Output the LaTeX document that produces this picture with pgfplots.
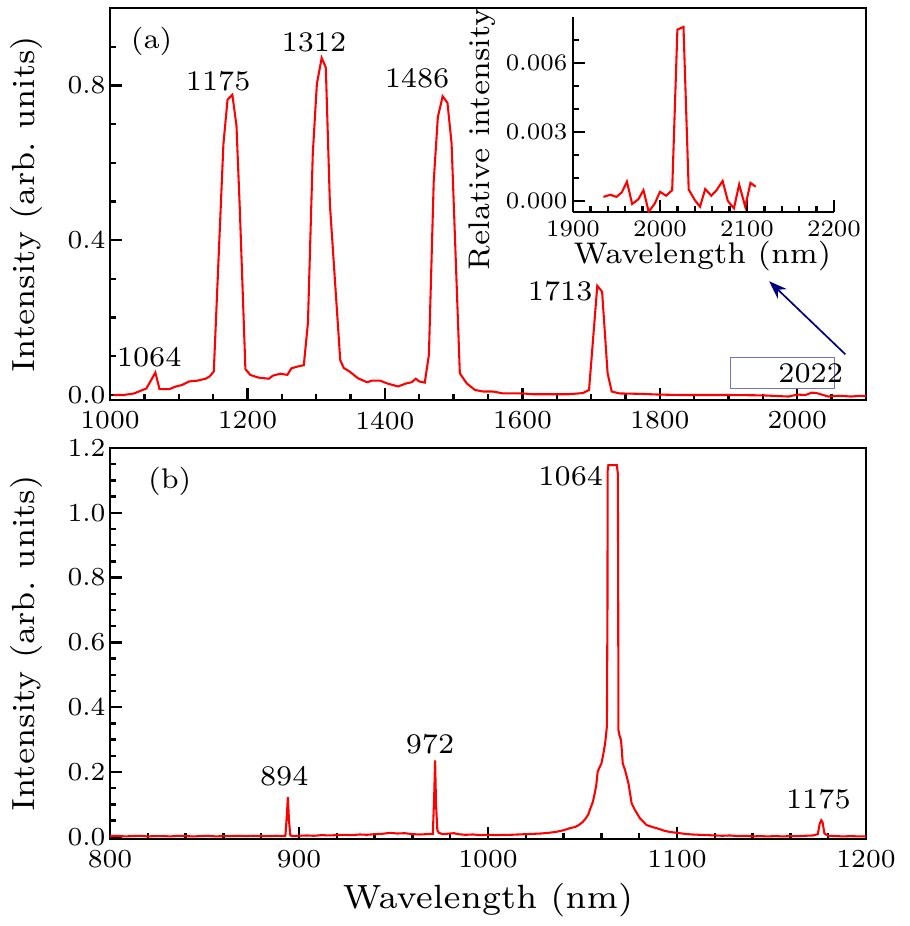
\documentclass[border=0pt]{standalone}
\usepackage{pgfplots}
\pgfplotsset{compat=1.18}
\usetikzlibrary{arrows.meta}
\definecolor{boxblue}{RGB}{115,115,195}
\definecolor{arrnavy}{RGB}{0,0,128}
\newcommand{\sz}{\fontsize{7}{8.4}\selectfont}
\tikzset{ann/.style={font=\sz, scale=1.56, inner sep=0pt}}
\pgfplotsset{
  myaxis/.style={
    scale only axis, width=290.77pt,
    axis line style={line width=1pt},
    every tick/.style={black, line width=0.9pt},
    major tick length=4.8pt, minor tick length=2.3pt,
    tick align=inside, xtick pos=bottom, ytick pos=left,
    /pgf/number format/assume math mode=true,
    /pgf/number format/1000 sep={},
    tick label style={font=\sz, scale=1.43},
    yticklabel style={inner sep=1pt},
    xticklabel style={inner sep=2.9pt},
    label style={font=\sz, scale=1.76},
    ylabel style={at={(axis description cs:-0.111,0.5)}, anchor=center},
    scaled ticks=false,
  },
}
\begin{document}
\begin{tikzpicture}
\useasboundingbox (0,0) rectangle (349.62pt,-356.15pt);
% ---------------- panel (a)
\begin{axis}[myaxis, at={(42.31pt,-153.85pt)}, anchor=south west,
  height=150.77pt,
  xmin=1000, xmax=2100, ymin=-0.013, ymax=1.0,
  xtick={1000,1200,...,2000}, minor xtick={1000,1050,...,2100},
  ytick={0,0.4,0.8}, minor ytick={0.1,0.2,0.3,0.5,0.6,0.7,0.9},
  yticklabel style={/pgf/number format/.cd, fixed, fixed zerofill, precision=1},
  ylabel={Intensity (arb.\ units)},
]
\addplot[red, line width=0.8pt] coordinates {
(1005,0.000) (1020,0.000) (1035,0.004) (1053,0.017) (1066,0.058) (1072,0.015)
(1086,0.015) (1096,0.022) (1105,0.026) (1115,0.035) (1127,0.037) (1139,0.042)
(1145,0.048) (1151,0.061) (1165,0.648) (1171,0.763) (1178,0.776) (1184,0.696)
(1189,0.474) (1197,0.067) (1204,0.052) (1216,0.045) (1231,0.042) (1237,0.050)
(1248,0.055) (1258,0.052) (1264,0.069) (1274,0.074) (1282,0.077) (1288,0.187)
(1295,0.622) (1301,0.804) (1308,0.871) (1314,0.846) (1320,0.491) (1335,0.090)
(1340,0.070) (1349,0.060) (1361,0.043) (1374,0.033) (1381,0.037) (1393,0.037)
(1403,0.030) (1419,0.022) (1431,0.030) (1439,0.033) (1445,0.042) (1450,0.035)
(1458,0.032) (1464,0.104) (1471,0.552) (1477,0.718) (1484,0.772) (1491,0.755)
(1497,0.650) (1509,0.056) (1519,0.030) (1531,0.013) (1543,0.009) (1557,0.009)
(1572,0.004) (1601,0.004) (1615,0.002) (1640,0.002) (1668,0.002) (1688,0.005)
(1697,0.013) (1709,0.282) (1716,0.267) (1724,0.056) (1730,0.009) (1741,0.004)
(1770,0.003) (1800,0.001) (1830,0.000) (1860,0.000) (1900,0.000) (1950,-0.001)
(1987,-0.004) (2000,0.001) (2012,0.000) (2021,0.006) (2028,0.005) (2045,-0.004)
(2060,-0.002) (2079,-0.004) (2090,-0.002) (2100,-0.003)
};
\node[ann] at (axis description cs:0.055,0.914) {(a)};
\node[ann] at (axis cs:1157.4,0.811) {1175};
\node[ann] at (axis cs:1296.7,0.910) {1312};
\node[ann] at (axis cs:1446.8,0.819) {1486};
\node[ann] at (axis cs:1057,0.097) {1064};
\node[ann] at (axis cs:1655,0.267) {1713};
\draw[boxblue, line width=0.5pt] (axis cs:1903,0.016) rectangle (axis cs:2054,0.097);
\node[ann] at (axis cs:2019.5,0.056) {2022};
\draw[arrnavy, line width=0.65pt, -{Stealth[length=7pt,width=5pt]}] (axis cs:2070,0.105) -- (axis cs:1959,0.294);
\end{axis}
% ---------------- inset
\begin{axis}[at={(220.38pt,-81.54pt)}, anchor=south west,
  scale only axis, width=100.38pt, height=75pt,
  axis lines=left, axis line style={-, line width=1.1pt},
  every tick/.style={black, line width=0.9pt},
  major tick length=4.8pt, minor tick length=2.3pt, tick align=inside,
  xmin=1900, xmax=2200, ymin=-0.00049, ymax=0.008,
  xtick={1900,2000,2100,2200}, minor xtick={1900,1920,...,2200},
  ytick={0,0.003,0.006}, minor ytick={0.001,0.002,0.004,0.005,0.007},
  scaled ticks=false,
  /pgf/number format/assume math mode=true,
  /pgf/number format/1000 sep={},
  tick label style={font=\sz, scale=1.3},
  yticklabel style={inner sep=1.5pt, /pgf/number format/.cd, fixed, fixed zerofill, precision=3},
  xticklabel style={inner sep=2.4pt},
  label style={font=\sz, scale=1.64},
  xlabel={Wavelength (nm)},
  xlabel style={at={(axis description cs:0.496,-0.265)}, anchor=base},
  ylabel={Relative intensity},
  ylabel style={at={(axis description cs:-0.347,0.373)}, anchor=center},
]
\addplot[red, line width=0.8pt] coordinates {
(1935,0.00017) (1943,0.00026) (1950,0.00017) (1956,0.00036) (1962,0.00083)
(1968,-0.00014) (1975,0.00006) (1981,0.00046) (1987,-0.00048) (1994,-0.00012)
(2000,0.00039) (2007,0.00022) (2014,0.00046) (2020,0.00745) (2027,0.00757)
(2033,0.00049) (2040,0.00003) (2046,-0.00026) (2052,0.00051) (2059,0.00022)
(2065,0.00046) (2072,0.00086) (2078,-0.00001) (2085,-0.00033) (2091,0.00071)
(2098,-0.00026) (2104,0.00078) (2110,0.00061)
};
\end{axis}
% ---------------- panel (b)
\begin{axis}[myaxis, at={(42.31pt,-322.69pt)}, anchor=south west,
  height=150.38pt,
  xmin=800, xmax=1200, ymin=-0.007, ymax=1.2,
  xtick={800,900,...,1200}, minor xtick={800,820,...,1200},
  ytick={0,0.2,...,1.2}, minor ytick={0,0.05,...,1.2},
  yticklabel style={/pgf/number format/.cd, fixed, fixed zerofill, precision=1},
  ylabel={Intensity (arb.\ units)},
  xlabel={Wavelength (nm)},
  xlabel style={at={(axis description cs:0.5,-0.178)}, anchor=base, scale=1.05},
]
\addplot[red, line width=0.8pt] coordinates {
(800,0.002) (804,0.003) (808,0.001) (812,0.002) (816,0.003) (820,0.001)
(824,0.002) (828,0.002) (832,0.001) (836,0.003) (840,0.002) (844,0.001)
(848,0.002) (852,0.003) (856,0.001) (860,0.002) (864,0.002) (868,0.003)
(872,0.002) (876,0.003) (880,0.002) (884,0.002) (888,0.003) (891,0.002)
(892.8,0.003) (893.5,0.060) (894.1,0.122) (894.7,0.050) (895.4,0.004) (897,0.002)
(900,0.003) (904,0.004) (908,0.003) (912,0.005) (916,0.004) (920,0.005)
(924,0.006) (928,0.005) (932,0.007) (936,0.006) (940,0.008) (944,0.009)
(948,0.012) (952,0.010) (956,0.011) (960,0.008) (964,0.007) (968,0.008)
(970.8,0.009) (971.5,0.120) (972,0.236) (972.5,0.100) (973.2,0.020) (974,0.012)
(976,0.008) (980,0.010) (982,0.011) (984,0.008) (988,0.006) (992,0.007)
(996,0.005) (1000,0.006) (1004,0.005) (1008,0.006) (1012,0.006) (1016,0.007)
(1020,0.008) (1024,0.009) (1028,0.010) (1032,0.012) (1036,0.015) (1040,0.020)
(1043,0.026) (1046,0.030) (1048,0.036) (1050,0.045) (1051.5,0.055) (1053,0.068)
(1054,0.085) (1055.5,0.108) (1056.5,0.135) (1057.3,0.160) (1058,0.200) (1059,0.214)
(1060,0.226) (1061,0.255) (1062,0.290) (1062.9,0.340) (1063.2,0.700) (1063.3,1.130)
(1063.7,1.147) (1068.2,1.147) (1068.7,1.120) (1068.9,0.700) (1069.0,0.330)
(1069.5,0.314) (1070.4,0.298) (1071.3,0.226) (1072.5,0.206) (1074.3,0.165)
(1076,0.103) (1077.8,0.082) (1080.4,0.057) (1083.9,0.036) (1087,0.030)
(1090,0.025) (1093,0.019) (1096,0.015) (1100,0.012) (1104,0.009) (1108,0.007)
(1112,0.006) (1116,0.005) (1120,0.004) (1124,0.003) (1128,0.004) (1132,0.002)
(1136,0.003) (1140,0.001) (1144,0.002) (1148,0.001) (1152,0.002) (1156,0.001)
(1160,0.002) (1164,0.002) (1168,0.003) (1172,0.004) (1174.5,0.008) (1175.5,0.040)
(1176.3,0.051) (1177,0.045) (1178,0.010) (1180,0.003) (1184,0.002) (1188,0.001)
(1192,0.002) (1196,0.001) (1200,0.001)
};
\node[ann] at (axis description cs:0.079,0.914) {(b)};
\node[ann] at (axis cs:892.2,0.188) {894};
\node[ann] at (axis cs:969.3,0.286) {972};
\node[ann] at (axis cs:1043.8,1.114) {1064};
\node[ann] at (axis cs:1174.8,0.116) {1175};
\end{axis}
\end{tikzpicture}
\end{document}
